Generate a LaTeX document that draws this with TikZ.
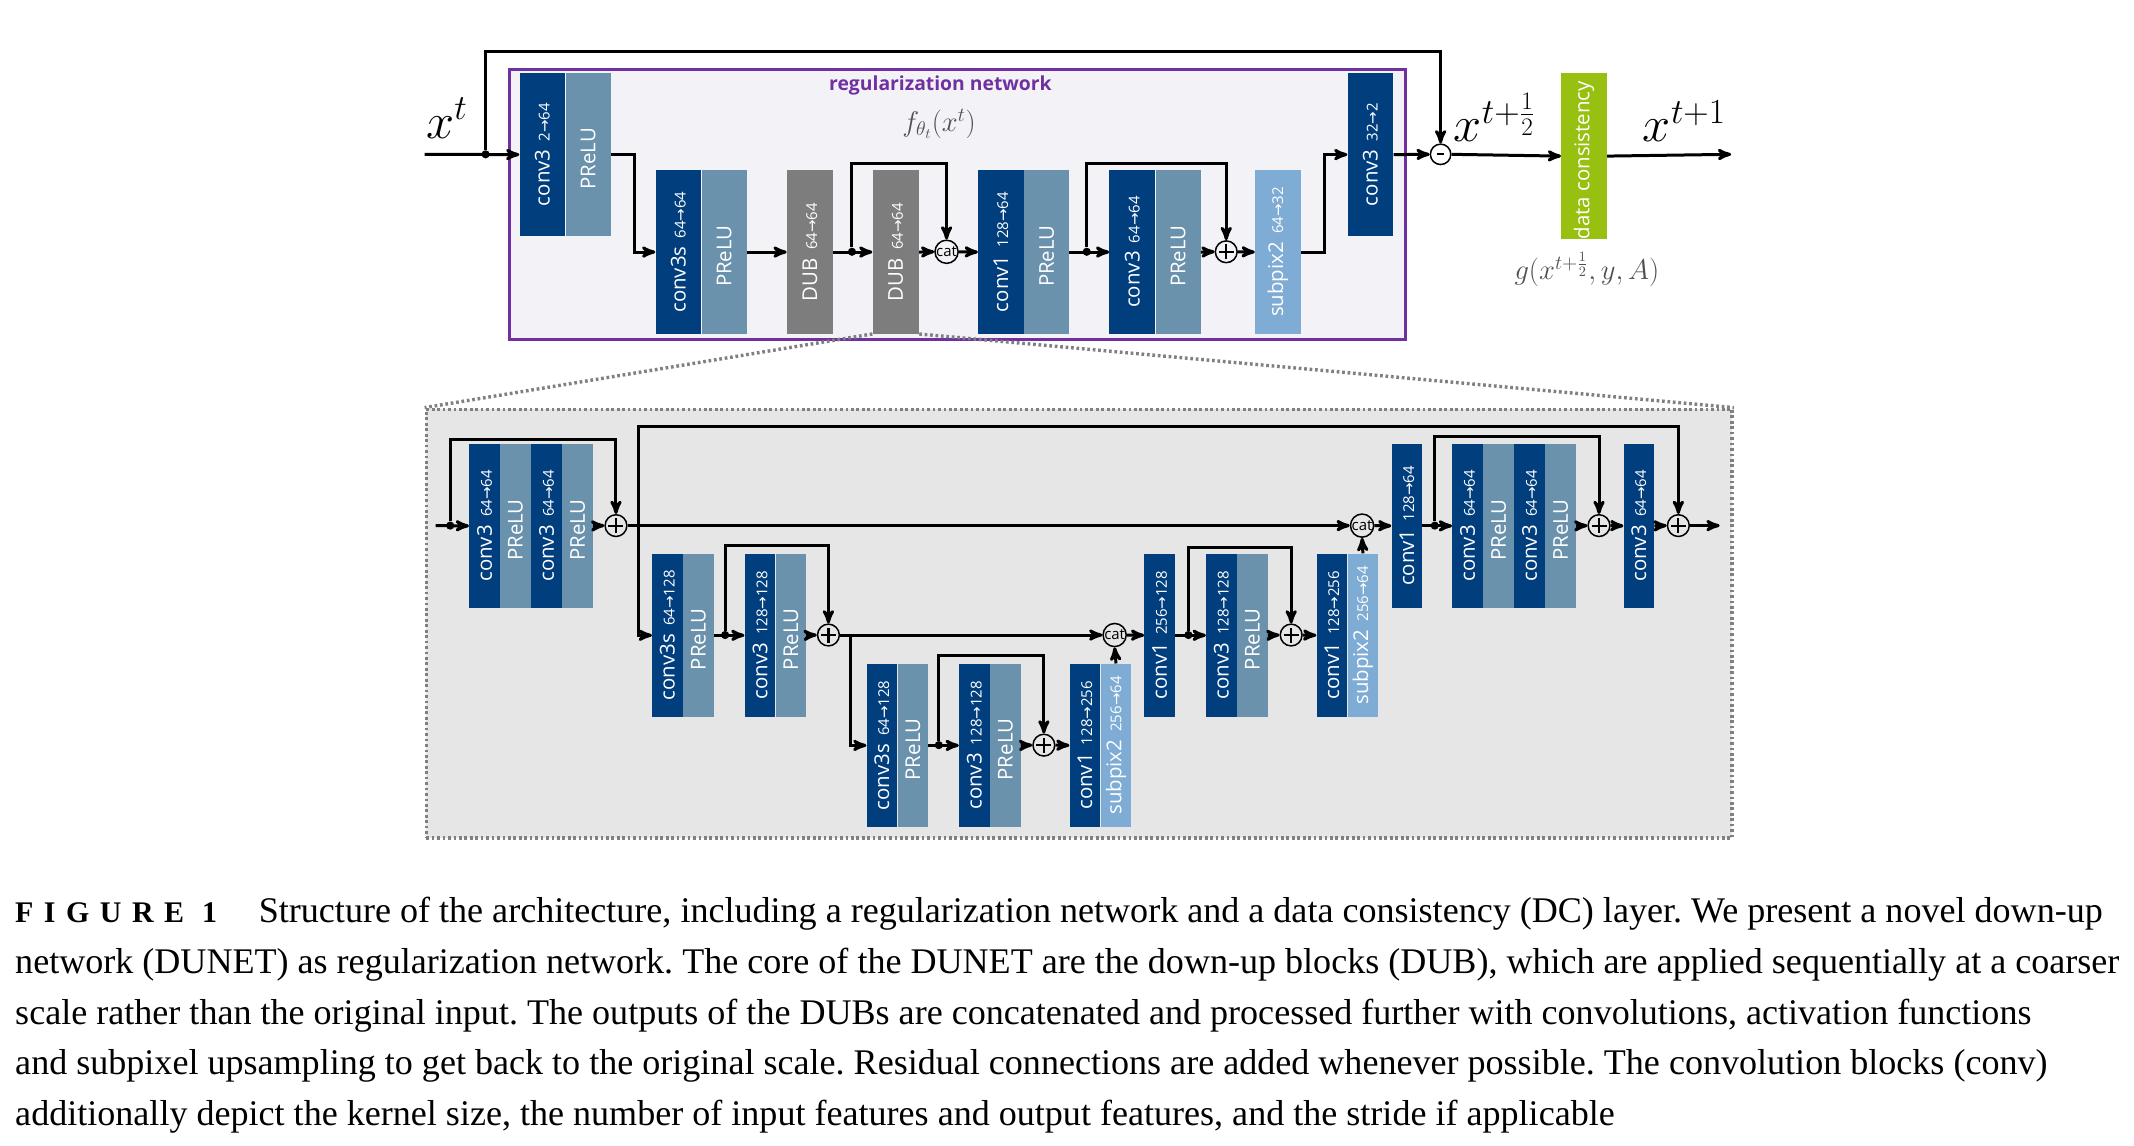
\documentclass[tikz,border=0pt]{standalone}
\usepackage{fix-cm}
\usepackage[no-math]{fontspec}
\setsansfont{Open Sans}
\newfontfamily\capfont{Liberation Serif}
\newfontfamily\arrowfont{DejaVu Sans}
\usepackage{graphicx}
\usepackage{tikz}
\usetikzlibrary{arrows,positioning}

\definecolor{convblue}{RGB}{0,62,126}
\definecolor{prelublue}{RGB}{106,146,173}
\definecolor{pixblue}{RGB}{126,172,212}
\definecolor{dubgray}{RGB}{125,125,125}
\definecolor{dcgreen}{RGB}{152,192,16}
\definecolor{regpurple}{RGB}{112,48,160}
\definecolor{regfill}{RGB}{243,243,247}
\definecolor{dunetfill}{RGB}{230,230,230}
\definecolor{labelgray}{RGB}{80,80,80}

\newcommand{\fto}{{\arrowfont →}}
\newcommand{\vlbl}[2]{\rotatebox{90}{#1\hspace{6pt}{\fontsize{11}{11}\selectfont #2}}}

\tikzset{
  block/.style={rectangle,inner sep=0pt,text=white,minimum height=120pt,
    font=\sffamily\fontsize{15}{15}\selectfont},
  conv/.style={block,fill=convblue,minimum width=33.5pt},
  act/.style={block,fill=prelublue,minimum width=33pt},
  pix/.style={block,fill=pixblue,minimum width=33.5pt},
  dub/.style={block,fill=dubgray,minimum width=34pt},
  dcbox/.style={block,fill=dcgreen,minimum width=33.5pt},
  slim/.style={minimum width=22.4pt},
  sumnode/.style={circle,draw,line width=1.1pt,minimum size=16pt,inner sep=0pt,
    path picture={\draw[line width=1.6pt]
      ([xshift=-5.5pt]path picture bounding box.center) -- ([xshift=5.5pt]path picture bounding box.center)
      ([yshift=-5.5pt]path picture bounding box.center) -- ([yshift=5.5pt]path picture bounding box.center);}},
  diffnode/.style={circle,draw,line width=1.1pt,minimum size=15pt,inner sep=0pt,
    path picture={\draw[line width=1.6pt]
      ([xshift=-2.5pt]path picture bounding box.center) -- ([xshift=2.5pt]path picture bounding box.center);}},
  catnode/.style={circle,draw,line width=1.1pt,minimum size=17pt,inner sep=0pt,
    font=\sffamily\fontsize{11}{11}\selectfont},
  jdot/.style={circle,fill,inner sep=0pt,minimum size=6pt},
  link/.style={line width=2.2pt,->},
  zoomline/.style={gray,line width=2.5pt,dash pattern=on 2pt off 2pt},
  mathlbl/.style={anchor=base west,inner sep=0pt,font=\fontsize{37}{37}\selectfont},
  capline/.style={anchor=base west,inner sep=0pt,font=\capfont\fontsize{26.5}{37}\selectfont}
}

\begin{document}
\frenchspacing
\begin{tikzpicture}[>=stealth',x=1pt,y=-1pt]
\useasboundingbox (0,0) rectangle (1568,842);

% regularization network
\node[draw=regpurple,line width=2.2pt,fill=regfill,anchor=north west,
      minimum width=658pt,minimum height=198pt] (regnet) at (373.5,50.2) {};
\node[font=\sffamily\bfseries\fontsize{14.2}{15}\selectfont,text=regpurple] (regtitle) at (691,63) {regularization network};
\node[font=\fontsize{21}{21}\selectfont,text=labelgray] (ftheta) at (690,91) {$f_{\theta_t}(x^t)$};

\node[conv,anchor=north west] (c3a) at (381.6,53.4) {\vlbl{conv3}{2\fto 64}};
\node[act,right=0pt of c3a] (pa) {\vlbl{PReLU}{}};
\node[conv,anchor=north west] (c3s) at (481.5,125) {\vlbl{conv3s}{64\fto 64}};
\node[act,right=0pt of c3s] (pb) {\vlbl{PReLU}{}};
\node[dub,anchor=north west] (dubA) at (578,125) {\vlbl{DUB}{64\fto 64}};
\node[dub,anchor=north west] (dubB) at (641,125) {\vlbl{DUB}{64\fto 64}};
\node[catnode] (catA) at (695.5,185) {cat};
\node[conv,anchor=north west] (c1a) at (718.5,125) {\vlbl{conv1}{128\fto 64}};
\node[act,right=0pt of c1a] (pc) {\vlbl{PReLU}{}};
\node[conv,anchor=north west] (c3b) at (815,125) {\vlbl{conv3}{64\fto 64}};
\node[act,right=0pt of c3b] (pd) {\vlbl{PReLU}{}};
\node[sumnode] (sumA) at (901,185) {};
\node[pix,anchor=north west] (pixA) at (922,125) {\vlbl{subpix2}{64\fto 32}};
\node[conv,anchor=north west] (c3c) at (990,53.4) {\vlbl{conv3}{32\fto 2}};
\node[diffnode] (minA) at (1058.5,113.4) {};
\node[dcbox,anchor=north west] (dc) at (1147,53.4) {\vlbl{data consistency}{}};

\node[mathlbl] (xt) at (313,101.5) {$x^t$};
\node[mathlbl] (xhalf) at (1068,104) {$x^{t+\frac{1}{2}}$};
\node[mathlbl] (xnext) at (1207,104) {$x^{t+1}$};
\node[font=\fontsize{21}{21}\selectfont,text=labelgray] (gdc) at (1166,198) {$g(x^{t+\frac{1}{2}},y,A)$};

\coordinate (xin) at (312,113.4);
\coordinate (xout) at (1272,113.4);
\node[jdot] (jx) at (356.8,113.4) {};
\node[jdot] (jd) at (626,185) {};
\node[jdot] (jc) at (798.5,185) {};

\draw[link] (xin) -- (c3a.west);
\draw[link] (jx) -- ++(0,-75.4) -| (minA.north);
\draw[link] (pa.east) -- ++(17,0) |- (c3s.west);
\draw[link] (pb.east) -- (dubA.west);
\draw[link] (dubA.east) -- (dubB.west);
\draw[link] (jd) -- ++(0,-65) -| (catA.north);
\draw[link] (dubB.east) -- (catA.west);
\draw[link] (catA.east) -- (c1a.west);
\draw[link] (pc.east) -- (c3b.west);
\draw[link] (jc) -- ++(0,-65) -| (sumA.north);
\draw[link] (pd.east) -- (sumA.west);
\draw[link] (sumA.east) -- (pixA.west);
\draw[link] (pixA.east) -- ++(17,0) |- (c3c.west);
\draw[link] (c3c.east) -- (minA.west);
\draw[link] (minA.east) -- (dc.west);
\draw[link] (dc.east) -- (xout);

% DUB in detail
\node[draw=gray,line width=2.5pt,dash pattern=on 2pt off 2pt,fill=dunetfill,anchor=north west,
      minimum width=959.5pt,minimum height=315pt] (dunet) at (312,299.5) {};
\draw[zoomline] (dubB.south west) -- (dunet.north west);
\draw[zoomline] (dubB.south east) -- (dunet.north east);

% row 1
\node[conv,slim,anchor=north west] (r1c1) at (344.6,326.2) {\vlbl{conv3}{64\fto 64}};
\node[act,slim,right=0pt of r1c1] (r1p1) {\vlbl{PReLU}{}};
\node[conv,slim,right=0pt of r1p1] (r1c2) {\vlbl{conv3}{64\fto 64}};
\node[act,slim,right=0pt of r1c2] (r1p2) {\vlbl{PReLU}{}};
\node[sumnode] (sum1) at (452.6,386.2) {};
\node[catnode] (cat1) at (1000.8,386.2) {cat};
\node[conv,slim,anchor=north west] (r1c3) at (1022.3,326.2) {\vlbl{conv1}{128\fto 64}};
\node[conv,slim,anchor=north west] (r1c4) at (1066.9,326.2) {\vlbl{conv3}{64\fto 64}};
\node[act,slim,right=0pt of r1c4] (r1p4) {\vlbl{PReLU}{}};
\node[conv,slim,right=0pt of r1p4] (r1c5) {\vlbl{conv3}{64\fto 64}};
\node[act,slim,right=0pt of r1c5] (r1p5) {\vlbl{PReLU}{}};
\node[sumnode] (sum2) at (1174.9,386.2) {};
\node[conv,slim,anchor=north west] (r1c6) at (1192.8,326.2) {\vlbl{conv3}{64\fto 64}};
\node[sumnode] (sum3) at (1233.2,386.2) {};

% row 2
\node[conv,slim,anchor=north west] (r2c1) at (479,406.6) {\vlbl{conv3s}{64\fto 128}};
\node[act,slim,right=0pt of r2c1] (r2p1) {\vlbl{PReLU}{}};
\node[conv,slim,anchor=north west] (r2c2) at (547,406.6) {\vlbl{conv3}{128\fto 128}};
\node[act,slim,right=0pt of r2c2] (r2p2) {\vlbl{PReLU}{}};
\node[sumnode] (sum4) at (608.7,466.6) {};
\node[catnode] (cat2) at (819,466.6) {cat};
\node[conv,slim,anchor=north west] (r2c3) at (840.7,406.6) {\vlbl{conv1}{256\fto 128}};
\node[conv,slim,anchor=north west] (r2c4) at (886,406.6) {\vlbl{conv3}{128\fto 128}};
\node[act,slim,right=0pt of r2c4] (r2p4) {\vlbl{PReLU}{}};
\node[sumnode] (sum5) at (948.7,466.6) {};
\node[conv,slim,anchor=north west] (r2c5) at (967.2,406.6) {\vlbl{conv1}{128\fto 256}};
\node[pix,slim,right=0pt of r2c5] (r2x5) {\vlbl{subpix2}{256\fto 64}};

% row 3
\node[conv,slim,anchor=north west] (r3c1) at (636.6,487.5) {\vlbl{conv3s}{64\fto 128}};
\node[act,slim,right=0pt of r3c1] (r3p1) {\vlbl{PReLU}{}};
\node[conv,slim,anchor=north west] (r3c2) at (704.5,487.5) {\vlbl{conv3}{128\fto 128}};
\node[act,slim,right=0pt of r3c2] (r3p2) {\vlbl{PReLU}{}};
\node[sumnode] (sum6) at (767,547.5) {};
\node[conv,slim,anchor=north west] (r3c3) at (785.8,487.5) {\vlbl{conv1}{128\fto 256}};
\node[pix,slim,right=0pt of r3c3] (r3x3) {\vlbl{subpix2}{256\fto 64}};

\coordinate (din) at (320,386.2);
\coordinate (dout) at (1263.5,386.2);
\coordinate (j2) at (469.3,386.2);
\coordinate (j4) at (625,466.6);
\node[jdot] (j1) at (330.8,386.2) {};
\node[jdot] (j3) at (532.8,466.6) {};
\node[jdot] (j5) at (689.8,547.5) {};
\node[jdot] (j6) at (873.2,466.6) {};
\node[jdot] (j7) at (1054.2,386.2) {};

\draw[link] (din) -- (r1c1.west);
\draw[link] (j1) -- ++(0,-63.5) -| (sum1.north);
\draw[link] (r1p2.east) -- (sum1.west);
\draw[link] (sum1.east) -- (cat1.west);
\draw[link] (j2) -- ++(0,-72.7) -| (sum3.north);
\draw[link] (j2) |- (r2c1.west);
\draw[link] (r2p1.east) -- (r2c2.west);
\draw[link] (j3) -- ++(0,-65.6) -| (sum4.north);
\draw[link] (r2p2.east) -- (sum4.west);
\draw[link] (sum4.east) -- (cat2.west);
\draw[link] (j4) |- (r3c1.west);
\draw[link] (r3p1.east) -- (r3c2.west);
\draw[link] (j5) -- ++(0,-65.5) -| (sum6.north);
\draw[link] (r3p2.east) -- (sum6.west);
\draw[link] (sum6.east) -- (r3c3.west);
\draw[link] (r3x3.north) -- (cat2.south);
\draw[link] (cat2.east) -- (r2c3.west);
\draw[link] (r2c3.east) -- (r2c4.west);
\draw[link] (j6) -- ++(0,-64.2) -| (sum5.north);
\draw[link] (r2p4.east) -- (sum5.west);
\draw[link] (sum5.east) -- (r2c5.west);
\draw[link] (r2x5.north) -- (cat1.south);
\draw[link] (cat1.east) -- (r1c3.west);
\draw[link] (r1c3.east) -- (r1c4.west);
\draw[link] (j7) -- ++(0,-65.4) -| (sum2.north);
\draw[link] (r1p5.east) -- (sum2.west);
\draw[link] (sum2.east) -- (r1c6.west);
\draw[link] (r1c6.east) -- (sum3.west);
\draw[link] (sum3.east) -- (dout);

% caption
\node[anchor=base west,inner sep=0pt,font=\capfont\bfseries\fontsize{22}{22}\selectfont\addfontfeatures{LetterSpace=35}] (fig) at (11,678) {FIGURE 1};
\node[capline] (cap1) at (190,678) {Structure of the architecture, including a regularization network and a data consistency (DC) layer. We present a novel down-up};
\node[capline] (cap2) at (11,715.2) {network (DUNET) as regularization network. The core of the DUNET are the down-up blocks (DUB), which are applied sequentially at a coarser};
\node[capline] (cap3) at (11,752.4) {scale rather than the original input. The outputs of the DUBs are concatenated and processed further with convolutions, activation functions};
\node[capline] (cap4) at (11,789.6) {and subpixel upsampling to get back to the original scale. Residual connections are added whenever possible. The convolution blocks (conv)};
\node[capline] (cap5) at (11,826.8) {additionally depict the kernel size, the number of input features and output features, and the stride if applicable};
\end{tikzpicture}
\end{document}
